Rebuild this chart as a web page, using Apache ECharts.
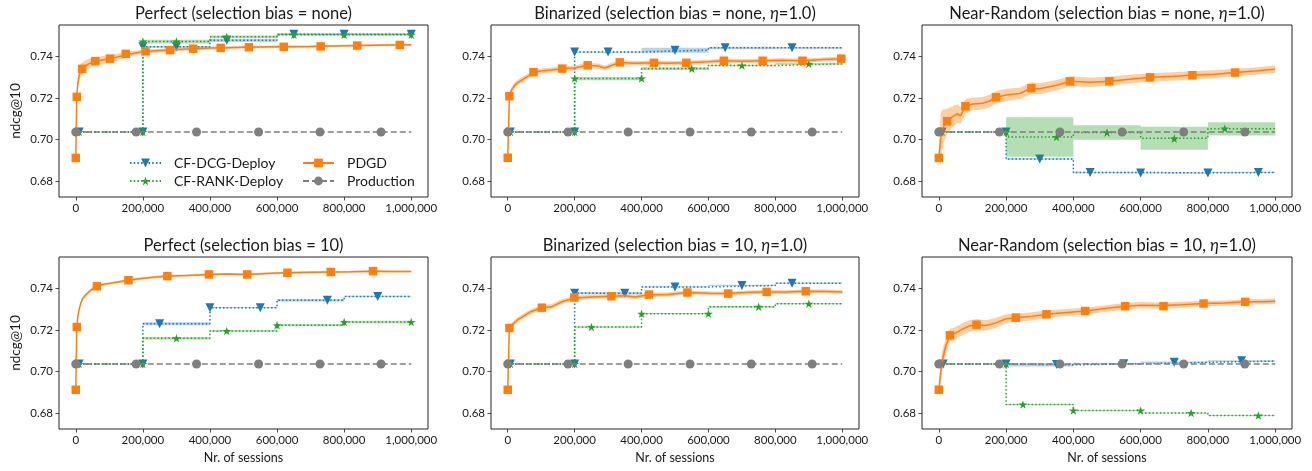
<!DOCTYPE html>
<html><head><meta charset="utf-8">
<script src="https://cdn.jsdelivr.net/npm/echarts@6/dist/echarts.min.js"></script>
<style>html,body{margin:0;padding:0;background:#fff}#c{width:1312px;height:471px}</style>
</head><body><div id="c"></div>
<script>
// ---------- shared axis data ----------
const STEP_X = [0, 200000, 400000, 600000, 800000, 1000000];
const X_TICKS = [0, 200000, 400000, 600000, 800000, 1000000];
const Y_TICKS = [0.68, 0.70, 0.72, 0.74];
const PRODUCTION_VALUE = 0.7037;
const PROD_MARK_X = [0, 180000, 360000, 545000, 728000, 910000];
const TITLES = [
  ['Perfect (selection bias = none)', false],
  ['Binarized (selection bias = none, ', true],
  ['Near-Random (selection bias = none, ', true],
  ['Perfect (selection bias = 10)', false],
  ['Binarized (selection bias = 10, ', true],
  ['Near-Random (selection bias = 10, ', true]
];

// ---------- Panel 1: Perfect, none ----------
const p1_pdgd_x = [0,3000,6000,10000,15000,20000,30000,45000,60000,80000,100000,125000,150000,175000,200000,250000,300000,350000,400000,450000,500000,600000,700000,800000,900000,1000000];
const p1_pdgd_y = [0.6912,0.7205,0.7270,0.7310,0.7335,0.7343,0.7358,0.7370,0.7378,0.7383,0.7390,0.7398,0.7410,0.7416,0.7423,0.7429,0.7434,0.7438,0.7441,0.7443,0.7445,0.7447,0.7449,0.7452,0.7455,0.7457];
const p1_pdgd_sd = [0,0.0010,0.0025,0.0030,0.0030,0.0028,0.0025,0.0022,0.0020,0.0020,0.0018,0.0016,0.0014,0.0012,0.0010,0.0009,0.0008,0.0008,0.0007,0.0007,0.0006,0.0006,0.0006,0.0005,0.0005,0.0005];
const p1_pdgd_mx = [0,3000,19000,58000,102000,149000,208000,281000,350000,432000,516000,620000,730000,839000,966000];
const p1_pdgd_my = [0.6912,0.7206,0.7341,0.7378,0.7390,0.7413,0.7425,0.7431,0.7438,0.7442,0.7445,0.7447,0.7449,0.7453,0.7456];
const p1_dcg = [0.7037,0.7447,0.7478,0.7508,0.7508];
const p1_dcg_sd = [0,0.0004,0.0008,0.0004,0.0004];
const p1_dcg_mx = [10000,200000,200000,300000,450000,650000,800000,1000000];
const p1_dcg_my = [0.7037,0.7037,0.7447,0.7447,0.7478,0.7508,0.7508,0.7508];
const p1_rank = [0.7037,0.7472,0.7495,0.7505,0.7505];
const p1_rank_sd = [0,0.0009,0.0006,0.0004,0.0004];
const p1_rank_mx = [10000,200000,200000,300000,450000,650000,800000,1000000];
const p1_rank_my = [0.7037,0.7037,0.7472,0.7472,0.7495,0.7505,0.7505,0.7505];

// ---------- Panel 2: Binarized, none ----------
const p2_pdgd_x = [0,5000,10000,20000,30000,45000,60000,77000,100000,130000,163000,200000,239000,270000,290000,335000,380000,437000,480000,534000,600000,646000,700000,762000,820000,881000,940000,1000000];
const p2_pdgd_y = [0.6913,0.7209,0.7235,0.7260,0.7275,0.7290,0.7305,0.7325,0.7330,0.7335,0.7342,0.7345,0.7358,0.7355,0.7345,0.7372,0.7368,0.7370,0.7368,0.7370,0.7375,0.7380,0.7378,0.7380,0.7382,0.7380,0.7386,0.7390];
const p2_pdgd_sd = [0,0.0015,0.0015,0.0014,0.0013,0.0013,0.0012,0.0012,0.0012,0.0012,0.0012,0.0012,0.0012,0.0012,0.0012,0.0011,0.0011,0.0011,0.0011,0.0010,0.0010,0.0010,0.0010,0.0010,0.0010,0.0010,0.0010,0.0010];
const p2_pdgd_mx = [0,5000,77000,163000,239000,335000,437000,534000,646000,762000,881000,997000];
const p2_pdgd_my = [0.6913,0.7209,0.7325,0.7342,0.7358,0.7372,0.7370,0.7370,0.7380,0.7380,0.7380,0.7390];
const p2_dcg = [0.7037,0.7422,0.7431,0.7442,0.7442];
const p2_dcg_sd = [0,0.0003,0.0012,0.0005,0.0004];
const p2_dcg_mx = [8000,200000,200000,300000,500000,650000,850000];
const p2_dcg_my = [0.7037,0.7037,0.7422,0.7422,0.7431,0.7442,0.7442];
const p2_rank = [0.7037,0.7294,0.7342,0.7357,0.7365];
const p2_rank_sd = [0,0.0008,0.0007,0.0004,0.0004];
const p2_rank_mx = [8000,200000,200000,400000,550000,700000,900000];
const p2_rank_my = [0.7037,0.7037,0.7294,0.7294,0.7342,0.7357,0.7365];

// ---------- Panel 3: Near-Random, none ----------
const p3_pdgd_x = [0,5000,10000,15000,25000,40000,55000,65000,79000,100000,130000,150000,170000,200000,240000,275000,300000,350000,390000,450000,507000,560000,628000,700000,754000,820000,881000,940000,1000000];
const p3_pdgd_y = [0.6912,0.7000,0.7045,0.7065,0.7089,0.7110,0.7125,0.7115,0.7161,0.7172,0.7175,0.7185,0.7204,0.7215,0.7222,0.7248,0.7245,0.7262,0.7281,0.7276,0.7281,0.7290,0.7300,0.7305,0.7310,0.7315,0.7323,0.7330,0.7339];
const p3_pdgd_sd = [0,0.0120,0.0100,0.0080,0.0060,0.0050,0.0045,0.0040,0.0035,0.0030,0.0030,0.0030,0.0030,0.0030,0.0028,0.0028,0.0026,0.0025,0.0024,0.0023,0.0022,0.0021,0.0020,0.0020,0.0020,0.0019,0.0018,0.0018,0.0018];
const p3_pdgd_mx = [0,25000,79000,170000,275000,390000,507000,628000,754000,881000];
const p3_pdgd_my = [0.6912,0.7089,0.7161,0.7204,0.7248,0.7281,0.7281,0.7300,0.7310,0.7323];
const p3_dcg = [0.7037,0.6907,0.6842,0.6840,0.6842];
const p3_dcg_sd = [0,0.0004,0.0004,0.0003,0.0003];
const p3_dcg_mx = [10000,200000,300000,450000,600000,800000,950000];
const p3_dcg_my = [0.7037,0.7037,0.6907,0.6842,0.6840,0.6840,0.6842];
const p3_rank = [0.7037,0.7013,0.7034,0.7007,0.7052];
const p3_rank_sd = [0,0.0095,0.0035,0.0055,0.0032];
const p3_rank_mx = [10000,200000,350000,500000,700000,850000];
const p3_rank_my = [0.7037,0.7037,0.7013,0.7034,0.7005,0.7054];

// ---------- Panel 4: Perfect, 10 ----------
const p4_pdgd_x = [0,3000,6000,10000,15000,20000,30000,45000,63000,80000,100000,130000,157000,200000,273000,330000,397000,450000,511000,570000,631000,700000,760000,820000,886000,940000,1000000];
const p4_pdgd_y = [0.6913,0.7215,0.7265,0.7300,0.7330,0.7350,0.7370,0.7393,0.7411,0.7420,0.7425,0.7433,0.7440,0.7450,0.7460,0.7463,0.7468,0.7470,0.7468,0.7473,0.7476,0.7478,0.7480,0.7481,0.7484,0.7482,0.7482];
const p4_pdgd_sd = [0,0.0008,0.0008,0.0008,0.0008,0.0008,0.0007,0.0007,0.0007,0.0007,0.0006,0.0006,0.0006,0.0006,0.0006,0.0005,0.0005,0.0005,0.0005,0.0005,0.0005,0.0005,0.0005,0.0005,0.0005,0.0005,0.0005];
const p4_pdgd_mx = [0,3000,63000,157000,273000,397000,511000,631000,760000,886000];
const p4_pdgd_my = [0.6913,0.7215,0.7411,0.7440,0.7460,0.7468,0.7468,0.7476,0.7480,0.7484];
const p4_dcg = [0.7037,0.7231,0.7308,0.7344,0.7362];
const p4_dcg_sd = [0,0.0007,0.0003,0.0006,0.0003];
const p4_dcg_mx = [10000,200000,250000,400000,550000,750000,900000];
const p4_dcg_my = [0.7037,0.7037,0.7231,0.7308,0.7308,0.7344,0.7362];
const p4_rank = [0.7037,0.7161,0.7196,0.7224,0.7239];
const p4_rank_sd = [0,0.0006,0.0004,0.0005,0.0006];
const p4_rank_mx = [10000,200000,300000,450000,600000,800000,1000000];
const p4_rank_my = [0.7037,0.7037,0.7161,0.7196,0.7224,0.7239,0.7239];

// ---------- Panel 5: Binarized, 10 ----------
const p5_pdgd_x = [0,5000,15000,30000,50000,70000,102000,130000,160000,199000,250000,310000,350000,380000,422000,480000,537000,600000,659000,720000,774000,830000,891000,950000,1000000];
const p5_pdgd_y = [0.6913,0.7210,0.7228,0.7250,0.7270,0.7290,0.7308,0.7312,0.7335,0.7355,0.7360,0.7363,0.7365,0.7360,0.7370,0.7372,0.7381,0.7378,0.7376,0.7382,0.7384,0.7383,0.7387,0.7386,0.7384];
const p5_pdgd_sd = [0,0.0012,0.0012,0.0012,0.0012,0.0012,0.0012,0.0012,0.0012,0.0011,0.0010,0.0010,0.0010,0.0010,0.0010,0.0010,0.0010,0.0009,0.0009,0.0009,0.0009,0.0009,0.0009,0.0009,0.0009];
const p5_pdgd_mx = [0,5000,102000,199000,310000,422000,537000,659000,774000,891000];
const p5_pdgd_my = [0.6913,0.7210,0.7308,0.7357,0.7363,0.7371,0.7381,0.7376,0.7384,0.7387];
const p5_dcg = [0.7037,0.7378,0.7408,0.7415,0.7426];
const p5_dcg_sd = [0,0.0005,0.0003,0.0003,0.0003];
const p5_dcg_mx = [8000,200000,200000,350000,500000,700000,850000];
const p5_dcg_my = [0.7037,0.7037,0.7378,0.7378,0.7408,0.7415,0.7426];
const p5_rank = [0.7037,0.7215,0.7279,0.7312,0.7327];
const p5_rank_sd = [0,0.0004,0.0003,0.0004,0.0003];
const p5_rank_mx = [8000,200000,250000,400000,600000,750000,900000];
const p5_rank_my = [0.7037,0.7037,0.7215,0.7279,0.7279,0.7312,0.7327];

// ---------- Panel 6: Near-Random, 10 ----------
const p6_pdgd_x = [0,5000,10000,20000,33000,50000,70000,90000,112000,140000,170000,200000,229000,270000,320000,380000,435000,500000,554000,600000,668000,720000,787000,850000,911000,960000,1000000];
const p6_pdgd_y = [0.6913,0.6990,0.7050,0.7120,0.7175,0.7185,0.7205,0.7220,0.7226,0.7222,0.7235,0.7255,0.7260,0.7265,0.7276,0.7285,0.7292,0.7305,0.7315,0.7320,0.7318,0.7322,0.7328,0.7330,0.7336,0.7337,0.7339];
const p6_pdgd_sd = [0,0.0050,0.0050,0.0040,0.0030,0.0030,0.0028,0.0028,0.0027,0.0025,0.0024,0.0022,0.0020,0.0020,0.0018,0.0017,0.0016,0.0016,0.0015,0.0015,0.0014,0.0014,0.0013,0.0013,0.0013,0.0013,0.0013];
const p6_pdgd_mx = [0,33000,112000,229000,320000,435000,554000,668000,787000,911000];
const p6_pdgd_my = [0.6913,0.7175,0.7226,0.7260,0.7276,0.7292,0.7315,0.7315,0.7328,0.7336];
const p6_dcg = [0.7037,0.7033,0.7038,0.7045,0.7051];
const p6_dcg_sd = [0,0.0008,0.0004,0.0004,0.0004];
const p6_dcg_mx = [13000,200000,350000,550000,700000,900000];
const p6_dcg_my = [0.7037,0.7037,0.7034,0.7038,0.7045,0.7052];
const p6_rank = [0.7037,0.6842,0.6813,0.6801,0.6789];
const p6_rank_sd = [0,0.0002,0.0002,0.0002,0.0002];
const p6_rank_mx = [8000,200000,250000,400000,600000,750000,950000];
const p6_rank_my = [0.7037,0.7037,0.6842,0.6813,0.6813,0.6801,0.6789];

// ---------- assemble ----------
const PANELS = [
  {px:p1_pdgd_x,py:p1_pdgd_y,psd:p1_pdgd_sd,pmx:p1_pdgd_mx,pmy:p1_pdgd_my,d:p1_dcg,dsd:p1_dcg_sd,dmx:p1_dcg_mx,dmy:p1_dcg_my,r:p1_rank,rsd:p1_rank_sd,rmx:p1_rank_mx,rmy:p1_rank_my},
  {px:p2_pdgd_x,py:p2_pdgd_y,psd:p2_pdgd_sd,pmx:p2_pdgd_mx,pmy:p2_pdgd_my,d:p2_dcg,dsd:p2_dcg_sd,dmx:p2_dcg_mx,dmy:p2_dcg_my,r:p2_rank,rsd:p2_rank_sd,rmx:p2_rank_mx,rmy:p2_rank_my},
  {px:p3_pdgd_x,py:p3_pdgd_y,psd:p3_pdgd_sd,pmx:p3_pdgd_mx,pmy:p3_pdgd_my,d:p3_dcg,dsd:p3_dcg_sd,dmx:p3_dcg_mx,dmy:p3_dcg_my,r:p3_rank,rsd:p3_rank_sd,rmx:p3_rank_mx,rmy:p3_rank_my},
  {px:p4_pdgd_x,py:p4_pdgd_y,psd:p4_pdgd_sd,pmx:p4_pdgd_mx,pmy:p4_pdgd_my,d:p4_dcg,dsd:p4_dcg_sd,dmx:p4_dcg_mx,dmy:p4_dcg_my,r:p4_rank,rsd:p4_rank_sd,rmx:p4_rank_mx,rmy:p4_rank_my},
  {px:p5_pdgd_x,py:p5_pdgd_y,psd:p5_pdgd_sd,pmx:p5_pdgd_mx,pmy:p5_pdgd_my,d:p5_dcg,dsd:p5_dcg_sd,dmx:p5_dcg_mx,dmy:p5_dcg_my,r:p5_rank,rsd:p5_rank_sd,rmx:p5_rank_mx,rmy:p5_rank_my},
  {px:p6_pdgd_x,py:p6_pdgd_y,psd:p6_pdgd_sd,pmx:p6_pdgd_mx,pmy:p6_pdgd_my,d:p6_dcg,dsd:p6_dcg_sd,dmx:p6_dcg_mx,dmy:p6_dcg_my,r:p6_rank,rsd:p6_rank_sd,rmx:p6_rank_mx,rmy:p6_rank_my}
];

const FONT = 'Lato';
const TXT = '#1a1a1a';
const C_BLUE = '#1f77b4', C_ORANGE = '#ff7f0e', C_GREEN = '#2ca02c', C_GRAY = '#7f7f7f';
const STAR = 'path://M100,0 L122.45,69.1 L195.1,69.1 L136.3,111.8 L158.8,180.9 L100,138.2 L41.2,180.9 L63.7,111.8 L4.9,69.1 L77.55,69.1 Z';
const GRID_LEFT = [59, 491, 922];
const GRID_W = [369, 368, 370];
const GRID_TOP = [25, 257];
const GRID_H = 172;

function fmtThousands(v){ return String(Math.round(v)).replace(/\B(?=(\d{3})+(?!\d))/g, ','); }

const grids = [], xAxes = [], yAxes = [], titles = [], series = [];

function bandSeries(gi, xs, lo, hi, step, color, z){
  return {
    type:'custom', xAxisIndex:gi, yAxisIndex:gi, z:z, silent:true, animation:false,
    encode:{x:0, y:[1,2]},
    data: xs.map((x,i)=>[x, lo[i], hi[i]]),
    renderItem: function(params, api){
      if (params.dataIndex !== 0) return null;
      const up = [], dn = [];
      for (let i = 0; i < xs.length; i++){
        if (step && i > 0){ up.push(api.coord([xs[i], hi[i-1]])); dn.push(api.coord([xs[i], lo[i-1]])); }
        up.push(api.coord([xs[i], hi[i]])); dn.push(api.coord([xs[i], lo[i]]));
      }
      return {type:'polygon', shape:{points: up.concat(dn.reverse())}, style:{fill: color}};
    }
  };
}

function addMethod(gi, name, color, lineType, step, xs, ys, sd, mx, my, symbol, symRot, symSize, bandColor, z){
  if (bandColor){
    const lo = ys.map((v,i)=>v - sd[i]);
    const hi = ys.map((v,i)=>v + sd[i]);
    series.push(bandSeries(gi, xs, lo, hi, step, bandColor, z - 1));
  }
  series.push({
    type:'line', name:name, xAxisIndex:gi, yAxisIndex:gi, z:z, animation:false, silent:true,
    data: xs.map((x,i)=>[x, ys[i]]), step: step ? 'end' : false,
    symbol:symbol, symbolRotate:symRot, symbolSize:symSize, symbolKeepAspect:true, showSymbol:false,
    lineStyle:{color:color, width:1.5, type:lineType}, itemStyle:{color:color}
  });
  series.push({
    type:'scatter', name:name, xAxisIndex:gi, yAxisIndex:gi, z:z, animation:false, silent:true,
    data: mx.map((x,i)=>[x, my[i]]),
    symbol:symbol, symbolRotate:symRot, symbolSize:symSize, symbolKeepAspect:true,
    itemStyle:{color:color, opacity:1}
  });
}

PANELS.forEach((p, gi) => {
  const row = Math.floor(gi / 3), col = gi % 3;
  grids.push({left:GRID_LEFT[col], top:GRID_TOP[row], width:GRID_W[col], height:GRID_H,
    show:true, borderColor:'#262626', borderWidth:1, backgroundColor:'transparent', containLabel:false, outerBoundsMode:'none'});
  xAxes.push({
    type:'value', gridIndex:gi, min:-50000, max:1050000,
    axisLine:{show:false, onZero:false}, splitLine:{show:false},
    axisTick:{show:true, customValues:X_TICKS, length:3.5, lineStyle:{color:'#262626', width:0.8}},
    axisLabel:{show:true, customValues:X_TICKS, formatter:fmtThousands, fontFamily:FONT, fontSize:11.5, color:TXT, margin:5},
    name: row === 1 ? 'Nr. of sessions' : '', nameLocation:'middle', nameGap:22,
    nameTextStyle:{fontFamily:FONT, fontSize:12.5, color:TXT}
  });
  yAxes.push({
    type:'value', gridIndex:gi, min:0.6724, max:0.7552,
    axisLine:{show:false, onZero:false}, splitLine:{show:false},
    axisTick:{show:true, customValues:Y_TICKS, length:3.5, lineStyle:{color:'#262626', width:0.8}},
    axisLabel:{show:true, customValues:Y_TICKS, formatter:v=>v.toFixed(2), fontFamily:FONT, fontSize:11.5, color:TXT, margin:6},
    name: col === 0 ? 'ndcg@10' : '', nameLocation:'middle', nameGap:36,
    nameTextStyle:{fontFamily:FONT, fontSize:13.5, color:TXT}
  });
  const t = TITLES[gi];
  titles.push({
    text: t[1] ? '{a|' + t[0] + '}{i|η}{a|=1.0)}' : '{a|' + t[0] + '}',
    left: GRID_LEFT[col] + GRID_W[col] / 2, top: row === 0 ? 4 : 236, textAlign:'center',
    padding:0,
    textStyle:{fontWeight:'normal', rich:{
      a:{fontFamily:FONT, fontSize:16.5, fontWeight:'normal', color:TXT, lineHeight:19},
      i:{fontFamily:FONT, fontSize:16.5, fontWeight:'normal', color:TXT, fontStyle:'italic', lineHeight:19}
    }}
  });

  const dY = STEP_X.map((x,i)=>p.d[Math.min(i, p.d.length-1)]);
  const dSd = STEP_X.map((x,i)=>p.dsd[Math.min(i, p.dsd.length-1)]);
  const rY = STEP_X.map((x,i)=>p.r[Math.min(i, p.r.length-1)]);
  const rSd = STEP_X.map((x,i)=>p.rsd[Math.min(i, p.rsd.length-1)]);

  addMethod(gi, 'CF-DCG-Deploy', C_BLUE, [1.5, 2.2], true, STEP_X, dY, dSd, p.dmx, p.dmy, 'triangle', 180, 9, 'rgba(31,119,180,0.32)', 10);
  addMethod(gi, 'CF-RANK-Deploy', C_GREEN, [1.5, 2.2], true, STEP_X, rY, rSd, p.rmx, p.rmy, STAR, 0, 9, 'rgba(44,160,44,0.35)', 20);
  addMethod(gi, 'PDGD', C_ORANGE, 'solid', false, p.px, p.py, p.psd, p.pmx, p.pmy, 'rect', 0, 8.5, 'rgba(255,127,14,0.38)', 30);
  const prodY = STEP_X.map(()=>PRODUCTION_VALUE);
  addMethod(gi, 'Production', C_GRAY, [6, 3], false, STEP_X, prodY, null, PROD_MARK_X, PROD_MARK_X.map(()=>PRODUCTION_VALUE), 'circle', 0, 9, null, 40);
});

const legendCommon = {
  orient:'vertical', itemWidth:31, itemHeight:11, itemGap:4, selectedMode:false, padding:0,
  textStyle:{fontFamily:FONT, fontSize:14, color:TXT, padding:[0,0,0,8]}
};
const option = {
  backgroundColor:'#fff',
  animation:false,
  title: titles,
  grid: grids, xAxis: xAxes, yAxis: yAxes,
  legend:[
    Object.assign({left:129, top:156, data:['CF-DCG-Deploy','CF-RANK-Deploy']}, legendCommon),
    Object.assign({left:302, top:156, data:['PDGD','Production']}, legendCommon)
  ],
  series: series
};
const chart = echarts.init(document.getElementById('c'), null, {renderer:'canvas'});
chart.setOption(option);
</script></body></html>
